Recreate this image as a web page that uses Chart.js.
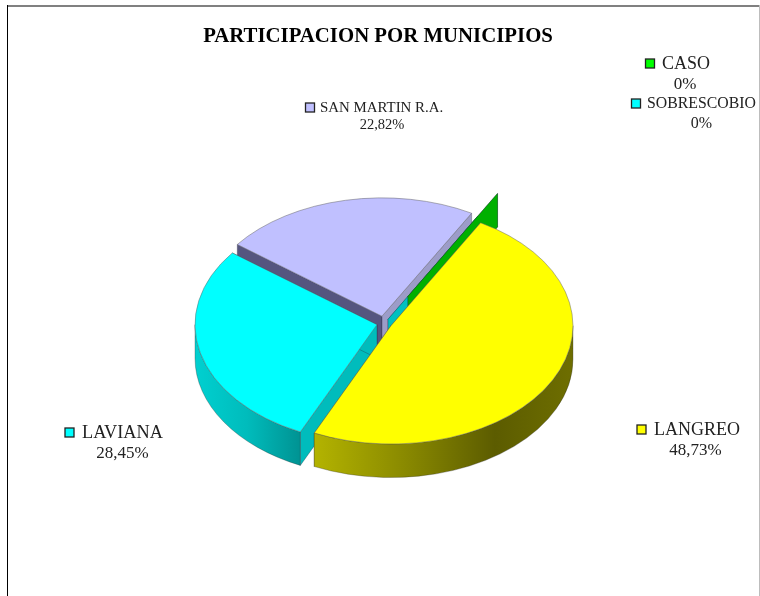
<!DOCTYPE html>
<html>
<head>
<meta charset="utf-8">
<title>Participacion por municipios</title>
<script src="https://cdn.jsdelivr.net/npm/chart.js@4"></script>
<style>
    html, body { margin: 0; padding: 0; background: #fff; }
    #chart-box { position: relative; width: 760px; height: 596px; }
</style>
</head>
<body>
<div id="chart-box"><canvas id="pie-chart" width="760" height="596"></canvas></div>
<script>
    "use strict";

    // Data
    var municipios = ["LANGREO", "LAVIANA", "SAN MARTIN R.A.", "CASO", "SOBRESCOBIO"];
    var participacion = [48.73, 28.45, 22.82, 0, 0];
    var colores = ["#ffff00", "#00ffff", "#c0c0ff", "#00ff00", "#00ffff"];

    // Label boxes, same order as municipios
    var labelPos = [
        { sq: 641.5, x: 654, y: 430, cx: 695.5, vy: 451, size: 18, vsize: 17 },
        { sq: 69.5, x: 82, y: 433, cx: 122.5, vy: 454, size: 18.3, vsize: 17 },
        { sq: 310, x: 320, y: 108, cx: 382, vy: 125, size: 14.9, vsize: 14.5 },
        { sq: 650, x: 662, y: 64, cx: 685, vy: 85, size: 18, vsize: 17 },
        { sq: 636, x: 647, y: 104, cx: 701.5, vy: 124, size: 15.8, vsize: 16 }
    ];

    // 3D look of the pie
    var pieCenter = { x: 384.3, y: 323.5 };
    var squash = 0.65;
    var depth = 33.5;
    var explode = [7.5, 7.5, 11.5, 48, 7.5];
    var drawOrder = [2, 4, 3, 1, 0];   // back to front
    var sideColors = ["#8a8a00", "#00bcbc", "#55557f", "#00b000", "#00c0c0"];
    var endColors = ["#8a8a00", "#00bcbc", "#9c9cc8", "#00b000", "#00c0c0"];
    var rimStops = [
        [[0, "#b4b400"], [0.35, "#8a8a00"], [0.7, "#5c5c00"], [1, "#6e6e00"]],
        [[0, "#00d0d0"], [0.5, "#00bcbc"], [1, "#009494"]],
        [[0, "#55557f"], [1, "#55557f"]]
    ];

    function pointOn(arc, i, angle, r) {
        var mid = (arc.startAngle + arc.endAngle) / 2;
        return {
            x: pieCenter.x + Math.cos(mid) * explode[i] + Math.cos(angle) * r,
            y: pieCenter.y + (Math.sin(mid) * explode[i] + Math.sin(angle) * r) * squash
        };
    }

    function radialWall(ctx, arc, i, angle, color) {
        var a = pointOn(arc, i, angle, 0);
        var b = pointOn(arc, i, angle, arc.outerRadius);
        ctx.beginPath();
        ctx.moveTo(a.x, a.y);
        ctx.lineTo(b.x, b.y);
        ctx.lineTo(b.x, b.y + depth);
        ctx.lineTo(a.x, a.y + depth);
        ctx.closePath();
        ctx.fillStyle = color;
        ctx.fill();
        ctx.strokeStyle = "rgba(40,40,60,.55)";
        ctx.lineWidth = 0.6;
        ctx.stroke();
    }

    function rimWall(ctx, arc, i) {
        // only the front half of the rim can be seen
        var from = Math.max(arc.startAngle, 0);
        var to = Math.min(arc.endAngle, Math.PI);
        if (from >= to) return;
        var c = pointOn(arc, i, 0, 0);
        var r = arc.outerRadius;
        var g = ctx.createLinearGradient(c.x - r, 0, c.x + r, 0);
        if (i === 0) g = ctx.createLinearGradient(c.x - r * 0.43, 0, c.x + r, 0);
        if (i === 1) g = ctx.createLinearGradient(c.x - r, 0, c.x - r * 0.43, 0);
        rimStops[i].forEach(function (s) { g.addColorStop(s[0], s[1]); });
        ctx.beginPath();
        ctx.ellipse(c.x, c.y, r, r * squash, 0, from, to);
        ctx.ellipse(c.x, c.y + depth, r, r * squash, 0, to, from, true);
        ctx.closePath();
        ctx.fillStyle = g;
        ctx.fill();
        ctx.strokeStyle = "rgba(40,40,40,.5)";
        ctx.lineWidth = 0.6;
        ctx.stroke();
    }

    var pie3d = {
        id: "pie3d",
        beforeDatasetDraw: function (chart) {
            var ctx = chart.ctx;
            var arcs = chart.getDatasetMeta(0).data;
            drawOrder.forEach(function (i) {
                var arc = arcs[i];
                ctx.save();
                radialWall(ctx, arc, i, arc.startAngle, sideColors[i]);
                radialWall(ctx, arc, i, arc.endAngle, endColors[i]);
                if (arc.circumference > 0) {
                    rimWall(ctx, arc, i);
                    var c = pointOn(arc, i, 0, 0);
                    ctx.translate(c.x, c.y);
                    ctx.scale(1, squash);
                    ctx.translate(-arc.x, -arc.y);
                    arc.draw(ctx);
                }
                ctx.restore();
            });
            return false;
        },
        afterDraw: function (chart) {
            var ctx = chart.ctx;
            ctx.save();
            // frame, only three sides show
            ctx.fillStyle = "#808080";
            ctx.fillRect(7, 5, 752, 2);
            ctx.fillStyle = "#000";
            ctx.fillRect(7, 5, 1, 591);
            ctx.fillStyle = "#bdbdbd";
            ctx.fillRect(759, 5, 1, 591);
            // labels
            ctx.textBaseline = "middle";
            municipios.forEach(function (name, i) {
                var p = labelPos[i];
                ctx.fillStyle = "#222";
                ctx.font = p.size + "px 'Liberation Serif'";
                ctx.textAlign = "left";
                ctx.fillText(name, p.x, p.y);
                ctx.font = p.vsize + "px 'Liberation Serif'";
                ctx.textAlign = "center";
                ctx.fillText(String(participacion[i]).replace(".", ",") + "%", p.cx, p.vy);
                ctx.fillStyle = colores[i];
                ctx.fillRect(p.sq - 4.5, p.y - 5, 9, 9);
                ctx.strokeStyle = "#222";
                ctx.lineWidth = 1.3;
                ctx.strokeRect(p.sq - 4.5, p.y - 5, 9, 9);
            });
            ctx.restore();
        }
    };

    new Chart(document.getElementById("pie-chart"), {
        type: "pie",
        data: {
            labels: municipios,
            datasets: [{
                data: participacion,
                backgroundColor: colores,
                borderColor: "#666",
                borderWidth: 0.6,
                radius: 182,
                rotation: 29.5
            }]
        },
        options: {
            responsive: false,
            animation: false,
            layout: { padding: { right: 4 } },
            plugins: {
                legend: { display: false },
                tooltip: { enabled: false },
                title: {
                    display: true,
                    text: "PARTICIPACION POR MUNICIPIOS",
                    color: "#000",
                    font: { family: "'Liberation Serif'", size: 20.8, weight: "bold" },
                    padding: { top: 24, bottom: 10 }
                }
            }
        },
        plugins: [pie3d]
    });
</script>
</body>
</html>
